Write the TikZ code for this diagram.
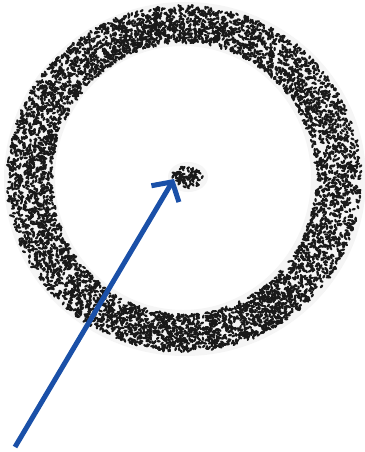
\documentclass[tikz,border=0pt]{standalone}
\usetikzlibrary{arrows.meta}
\definecolor{arrowblue}{HTML}{1A50A8}
\tikzset{
  stipple/.style={fill=black!90},
  halo/.style={fill=black!4},
  pointer/.style={draw=arrowblue, line width=5pt, -{Straight Barb[length=14pt,width=32pt,line width=5pt]}}
}
\begin{document}
\begin{tikzpicture}[x=1pt,y=-1pt]
\useasboundingbox (0,0) rectangle (364,452);
\fill[white] (0,0) rectangle (364,452);
% faint halo of the ring
\fill[halo, even odd rule] (185,179) ellipse (181 and 177) (183,178) ellipse (128 and 132);
\pgfmathsetseed{7}
% stippled ring
\foreach \i in {1,...,5600}{
  \pgfmathsetmacro\ang{360*rnd}
  \pgfmathsetmacro\s{rnd}
  \pgfmathsetmacro\px{184+(132+45*\s)*cos(\ang)}
  \pgfmathsetmacro\py{178.5+(136+37*\s)*sin(\ang)}
  \pgfmathsetmacro\rot{180*rnd}
  \fill[stipple, shift={(\px,\py)}, rotate=\rot] (0,0) ellipse (2.1 and 1.2);
}
% central blob
\fill[halo] (188,177) ellipse (20 and 15);
\foreach \i in {1,...,80}{
  \pgfmathsetmacro\ang{360*rnd}
  \pgfmathsetmacro\s{sqrt(rnd)}
  \pgfmathsetmacro\px{188+16*\s*cos(\ang)}
  \pgfmathsetmacro\py{177+11*\s*sin(\ang)}
  \pgfmathsetmacro\rot{180*rnd}
  \fill[stipple, shift={(\px,\py)}, rotate=\rot] (0,0) ellipse (2.1 and 1.2);
}
\coordinate (blob) at (174,179);
\coordinate (start) at (15,447);
\draw[pointer] (start) -- (blob);
\end{tikzpicture}
\end{document}
